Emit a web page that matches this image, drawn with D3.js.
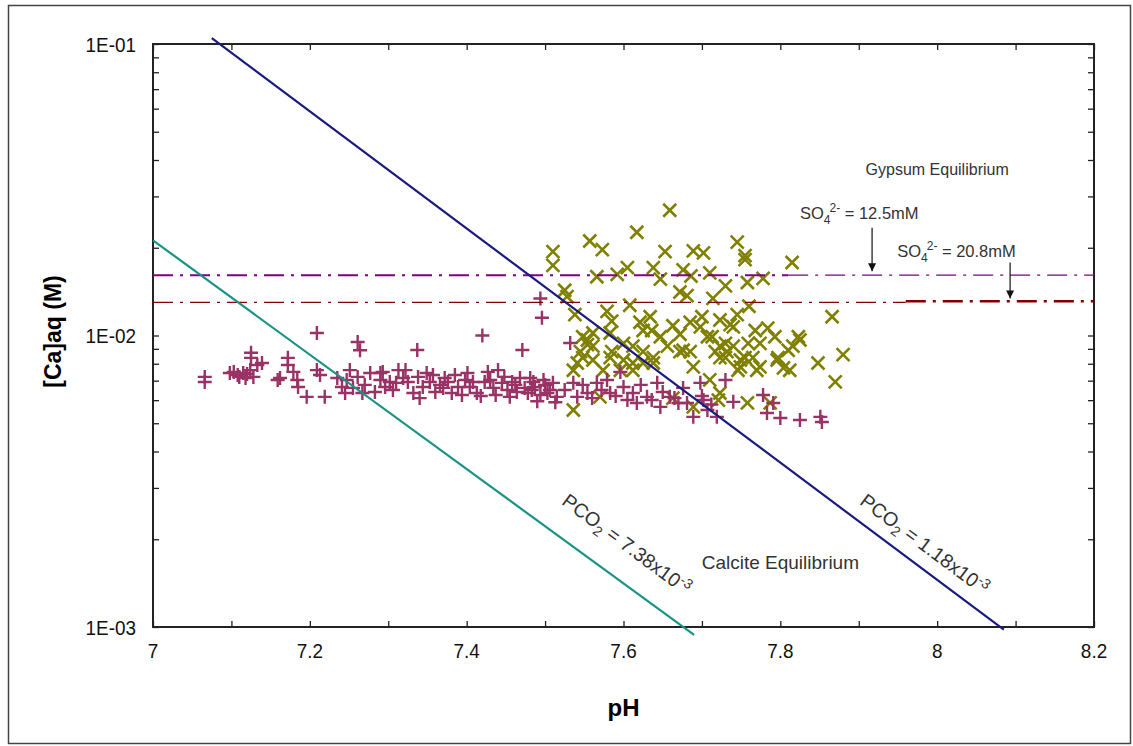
<!DOCTYPE html>
<html>
<head>
<meta charset="utf-8">
<script src="https://cdn.jsdelivr.net/npm/d3@7"></script>
<style>
  body { margin: 0; background: #fff; }
  svg text { font-family: "Liberation Sans", Arial, sans-serif; }
</style>
</head>
<body>
<svg id="chart"></svg>
<script>
// ---- data (pH, [Ca] in mM) ----
var plusPoints = [
  [7.066,7.21],[7.066,6.93],
  [7.098,7.44],[7.103,7.50],[7.108,7.32],[7.110,7.21],[7.115,7.44],[7.118,7.15],[7.120,7.38],[7.124,7.61],[7.128,7.21],
  [7.125,8.73],[7.125,8.38],[7.133,7.92],[7.139,8.05],
  [7.159,7.04],[7.162,7.15],[7.172,8.38],[7.172,7.92],[7.179,7.50],[7.184,7.04],[7.185,6.66],[7.196,6.16],
  [7.209,10.2],[7.209,7.61],[7.213,7.32],[7.219,6.16],[7.235,7.15],[7.241,6.66],[7.245,6.35],[7.247,7.04],[7.251,7.61],[7.255,6.61],
  [7.261,9.5],[7.264,8.9],[7.261,7.21],[7.267,6.35],[7.270,6.77],[7.277,7.44],[7.283,6.40],[7.290,7.04],[7.290,7.44],[7.293,7.50],[7.296,6.66],
  [7.302,6.93],[7.306,6.50],[7.310,6.88],[7.313,7.61],[7.319,7.15],[7.322,7.61],[7.325,6.93],[7.332,6.35],[7.337,8.92],[7.338,7.21],
  [7.340,6.10],[7.344,6.66],[7.349,7.44],[7.353,6.93],[7.357,7.32],[7.360,6.40],[7.366,6.77],[7.370,6.61],[7.372,7.15],[7.376,6.93],
  [7.381,6.35],[7.385,7.32],[7.389,6.66],[7.394,6.25],[7.398,7.04],
  [7.401,7.44],[7.404,6.66],[7.408,6.93],[7.413,6.35],[7.418,6.20],[7.420,10.0],[7.423,6.93],[7.427,7.50],[7.430,7.04],[7.434,6.61],
  [7.437,6.25],[7.440,7.61],[7.445,6.88],[7.448,7.21],[7.452,6.50],[7.455,6.16],[7.458,6.93],[7.462,6.77],[7.464,6.40],[7.468,7.15],
  [7.471,8.92],[7.474,6.61],[7.478,6.35],[7.481,7.15],[7.483,6.50],[7.485,6.93],[7.487,6.66],[7.490,5.95],[7.494,13.4],[7.496,11.5],
  [7.494,6.25],[7.498,7.04],[7.500,6.77],[7.503,6.35],[7.506,6.50],[7.510,6.88],[7.513,5.90],[7.515,6.16],
  [7.525,6.50],[7.532,9.43],[7.536,6.88],[7.541,6.16],[7.548,6.77],[7.554,6.35],[7.560,6.10],[7.566,6.88],[7.572,6.50],[7.579,7.04],
  [7.583,6.35],[7.590,6.20],[7.596,7.50],[7.600,6.66],[7.605,6.01],[7.612,6.35],[7.617,5.87],[7.622,6.77],[7.630,6.16],[7.636,6.01],
  [7.643,6.88],[7.647,5.69],[7.650,6.40],[7.659,6.16],[7.665,6.10],[7.670,5.87],[7.676,6.61],[7.681,5.87],[7.689,5.26],[7.698,6.88],
  [7.700,6.20],[7.702,6.01],[7.707,5.55],[7.712,5.80],[7.719,5.26],[7.730,7.04],[7.740,5.92],[7.778,6.25],[7.783,5.42],[7.791,5.87],
  [7.800,5.21],[7.825,5.13],[7.851,5.26],[7.853,5.05]
];

var crossPoints = [
  [7.659,26.9],[7.617,22.6],[7.557,21.1],[7.573,19.7],[7.510,19.4],[7.510,17.4],[7.653,19.4],[7.689,19.5],[7.702,19.2],
  [7.745,20.9],[7.755,18.8],[7.755,18.2],[7.815,17.8],[7.566,15.9],[7.592,16.2],[7.605,17.1],[7.638,17.1],[7.647,15.6],
  [7.676,16.8],[7.686,16.0],[7.710,16.4],[7.730,14.8],[7.758,15.2],[7.778,15.7],[7.525,14.3],[7.528,13.6],[7.672,14.1],
  [7.681,13.7],[7.714,13.4],[7.760,12.6],[7.866,11.6],[7.608,12.7],[7.538,11.8],[7.579,12.1],[7.585,11.2],[7.621,11.1],
  [7.634,11.6],[7.636,10.4],[7.625,10.4],[7.663,10.8],[7.672,10.1],[7.685,11.1],[7.698,10.7],[7.723,11.3],[7.740,10.7],
  [7.745,11.8],[7.700,11.6],[7.736,10.9],[7.768,10.4],[7.784,10.6],[7.793,9.9],[7.823,9.9],[7.816,9.2],[7.825,9.65],
  [7.548,9.9],[7.561,10.2],[7.583,10.2],[7.600,9.4],[7.545,8.8],[7.554,9.3],[7.585,8.8],[7.612,9.2],[7.625,8.05],
  [7.638,8.4],[7.656,9.2],[7.672,8.8],[7.685,8.8],[7.596,7.6],[7.612,7.6],[7.541,8.05],[7.561,8.24],[7.536,5.55],
  [7.570,6.16],[7.663,6.1],[7.689,5.69],[7.707,9.9],[7.723,9.2],[7.732,8.8],[7.740,9.2],[7.723,8.4],[7.749,8.24],
  [7.765,8.4],[7.774,7.8],[7.796,8.24],[7.804,7.74],[7.812,7.6],[7.676,8.9],[7.689,7.8],[7.647,9.9],[7.625,8.8],
  [7.638,8.05],[7.612,8.05],[7.600,8.24],[7.583,8.4],[7.561,9.2],[7.548,8.4],[7.536,7.6],[7.574,7.6],[7.554,9.65],
  [7.710,7.04],[7.749,7.8],[7.758,5.87],[7.723,6.35],[7.787,5.87],[7.848,8.05],[7.870,6.93],[7.880,8.6],
  [7.713,9.9],[7.730,9.4],[7.759,9.4],[7.774,9.4],[7.717,8.8],[7.730,8.4],[7.755,8.4],[7.797,8.4],[7.810,8.9],
  [7.770,7.6],[7.746,7.6],[7.721,6.0]
];

// calcite equilibrium lines (pH, [Ca] in M)
var calciteHigh = [[7.0, 0.0212], [7.69, 0.00094]];   // PCO2 = 7.38x10-3
var calciteLow = [[7.075, 0.1047], [8.085, 0.00098]]; // PCO2 = 1.18x10-3

// gypsum equilibrium levels (M)
var gypsum125 = 0.0161;
var gypsum208 = 0.0130;

var xTicks = [7, 7.2, 7.4, 7.6, 7.8, 8, 8.2];
var yTicks = [0.1, 0.01, 0.001];
var yTickLabels = ["1E-01", "1E-02", "1E-03"];

// ---- chart ----
var svgWidth = 1133, svgHeight = 746;
var margin = { top: 44, right: 39, bottom: 119, left: 153 };
var width = svgWidth - margin.left - margin.right;
var height = svgHeight - margin.top - margin.bottom;

var svg = d3.select("#chart")
  .attr("width", svgWidth)
  .attr("height", svgHeight);

// outer frame
svg.append("rect")
  .attr("x", 8.5).attr("y", 5.5)
  .attr("width", 1122).attr("height", 738)
  .attr("fill", "#fff")
  .attr("stroke", "#444")
  .attr("stroke-width", 1.5);

var g = svg.append("g")
  .attr("transform", "translate(" + margin.left + "," + margin.top + ")");

var x = d3.scaleLinear().domain([7, 8.2]).range([0, width]);
var y = d3.scaleLog().domain([0.001, 0.1]).range([height, 0]);

// minor ticks (every 0.1 pH, log minors)
var xMinor = d3.range(7, 8.21, 0.1);
var yMinor = y.ticks();

g.append("g")
  .attr("transform", "translate(0," + height + ")")
  .call(d3.axisBottom(x).tickValues(xMinor).tickSize(-6).tickFormat(""));
g.append("g")
  .call(d3.axisTop(x).tickValues(xMinor).tickSize(-6).tickFormat(""));
g.append("g")
  .call(d3.axisLeft(y).tickValues(yMinor).tickSize(-6).tickFormat(""));
g.append("g")
  .attr("transform", "translate(" + width + ",0)")
  .call(d3.axisRight(y).tickValues(yMinor).tickSize(-6).tickFormat(""));

g.selectAll(".domain").remove();
g.selectAll(".tick line").attr("stroke", "#222").attr("stroke-width", 1.3);

// plot border
g.append("rect")
  .attr("width", width).attr("height", height)
  .attr("fill", "none")
  .attr("stroke", "#222")
  .attr("stroke-width", 2);

// tick labels (slightly condensed like the original)
g.selectAll(".xlab")
  .data(xTicks)
  .enter().append("text")
  .attr("transform", function(d) { return "translate(" + x(d) + "," + (height + 16) + ") scale(0.9,1)"; })
  .attr("dy", "0.72em")
  .attr("text-anchor", "middle")
  .style("font-size", "21px")
  .attr("fill", "#111")
  .text(function(d) { return d; });

g.selectAll(".ylab")
  .data(yTicks)
  .enter().append("text")
  .attr("transform", function(d) { return "translate(-17," + y(d) + ") scale(0.9,1)"; })
  .attr("dy", "0.36em")
  .attr("text-anchor", "end")
  .style("font-size", "21px")
  .attr("fill", "#111")
  .text(function(d, i) { return yTickLabels[i]; });

// axis titles
g.append("text")
  .attr("x", x(7.6))
  .attr("y", height + 89)
  .attr("text-anchor", "middle")
  .style("font-size", "24px")
  .style("font-weight", "bold")
  .text("pH");

g.append("text")
  .attr("transform", "translate(" + (-92) + "," + (height / 2 - 4) + ") rotate(-90)")
  .attr("text-anchor", "middle")
  .style("font-size", "23px")
  .style("font-weight", "bold")
  .text("[Ca]aq (M)");

// markers
var crossPath = "M-6.5,-6.5L6.5,6.5M-6.5,6.5L6.5,-6.5";
var plusPath = "M-7,0H7M0,-7V7";

g.append("g").selectAll("path")
  .data(crossPoints)
  .enter().append("path")
  .attr("d", crossPath)
  .attr("transform", function(d) { return "translate(" + x(d[0]) + "," + y(d[1] / 1000) + ")"; })
  .attr("stroke", "#808000")
  .attr("stroke-width", 2.6)
  .attr("fill", "none");

g.append("g").selectAll("path")
  .data(plusPoints)
  .enter().append("path")
  .attr("d", plusPath)
  .attr("transform", function(d) { return "translate(" + x(d[0]) + "," + y(d[1] / 1000) + ")"; })
  .attr("stroke", "#993366")
  .attr("stroke-width", 2.4)
  .attr("fill", "none");

// gypsum lines
var gyp = g.append("g");
gyp.append("line")
  .attr("x1", x(7)).attr("x2", x(7.81))
  .attr("y1", y(gypsum125)).attr("y2", y(gypsum125))
  .attr("stroke", "#800080")
  .attr("stroke-width", 2)
  .attr("stroke-dasharray", "20,7,3,7");
gyp.append("line")
  .attr("x1", x(7.81)).attr("x2", x(8.2))
  .attr("y1", y(gypsum125)).attr("y2", y(gypsum125))
  .attr("stroke", "#800080")
  .attr("stroke-width", 1.3)
  .attr("stroke-dasharray", "20,7,3,7");
gyp.append("line")
  .attr("x1", x(7)).attr("x2", x(7.96))
  .attr("y1", y(gypsum208)).attr("y2", y(gypsum208))
  .attr("stroke", "#800000")
  .attr("stroke-width", 1.3)
  .attr("stroke-dasharray", "20,7,3,7");
gyp.append("line")
  .attr("x1", x(7.96)).attr("x2", x(8.2))
  .attr("y1", y(gypsum208) - 1).attr("y2", y(gypsum208) - 1)
  .attr("stroke", "#800000")
  .attr("stroke-width", 2.4)
  .attr("stroke-dasharray", "20,7,3,7");

// calcite lines
var line = d3.line()
  .x(function(d) { return x(d[0]); })
  .y(function(d) { return y(d[1]); });

g.append("path")
  .datum(calciteHigh)
  .attr("fill", "none")
  .attr("stroke", "#1a9285")
  .attr("stroke-width", 2.2)
  .attr("d", line);

g.append("path")
  .datum(calciteLow)
  .attr("fill", "none")
  .attr("stroke", "#1b1b7e")
  .attr("stroke-width", 2.2)
  .attr("d", line);

// annotations
var ann = g.append("g").attr("fill", "#333");

ann.append("text")
  .attr("x", x(8.0)).attr("y", y(0.0355))
  .attr("text-anchor", "middle")
  .style("font-size", "16px")
  .text("Gypsum Equilibrium");

ann.append("text")
  .attr("x", x(7.80)).attr("y", y(0.00158))
  .attr("text-anchor", "middle")
  .style("font-size", "19px")
  .text("Calcite Equilibrium");

function so4Label(px, ca, val) {
  var t = ann.append("text").attr("x", x(px)).attr("y", y(ca)).style("font-size", "16.5px");
  t.append("tspan").text("SO");
  t.append("tspan").attr("dy", 5).style("font-size", "12px").text("4");
  t.append("tspan").attr("dx", -1).attr("dy", -12).style("font-size", "12px").text("2-");
  t.append("tspan").attr("dy", 7).text(" = " + val);
}
so4Label(7.825, 0.0251, "12.5mM");
so4Label(7.949, 0.0186, "20.8mM");

// arrows
svg.append("defs").append("marker")
  .attr("id", "arrow")
  .attr("viewBox", "0 0 10 10")
  .attr("refX", 10).attr("refY", 5)
  .attr("markerWidth", 8).attr("markerHeight", 9)
  .attr("markerUnits", "userSpaceOnUse")
  .attr("orient", "auto")
  .append("path").attr("d", "M0,0L10,5L0,10Z").attr("fill", "#111");

g.append("line")
  .attr("x1", x(7.917)).attr("x2", x(7.917))
  .attr("y1", y(0.0234)).attr("y2", y(0.0166))
  .attr("stroke", "#111").attr("stroke-width", 1.2)
  .attr("marker-end", "url(#arrow)");
g.append("line")
  .attr("x1", x(8.093)).attr("x2", x(8.093))
  .attr("y1", y(0.0178)).attr("y2", y(0.0134))
  .attr("stroke", "#111").attr("stroke-width", 1.2)
  .attr("marker-end", "url(#arrow)");

// rotated PCO2 labels
var angle = Math.atan2(y(0.001) - y(0.01), x(7.5) - x(7.0)) * 180 / Math.PI;
function pco2Label(px, ca, val) {
  var t = ann.append("text")
    .style("font-size", "19.5px")
    .attr("transform", "translate(" + x(px) + "," + y(ca) + ") rotate(" + angle + ")");
  t.append("tspan").text("PCO");
  t.append("tspan").attr("dy", 5).style("font-size", "14px").text("2");
  t.append("tspan").attr("dy", -5).text(" = " + val + "x10");
  t.append("tspan").attr("dy", -7).style("font-size", "14px").text("-3");
}
pco2Label(7.520, 0.00265, "7.38");
pco2Label(7.900, 0.00265, "1.18");
</script>
</body>
</html>
